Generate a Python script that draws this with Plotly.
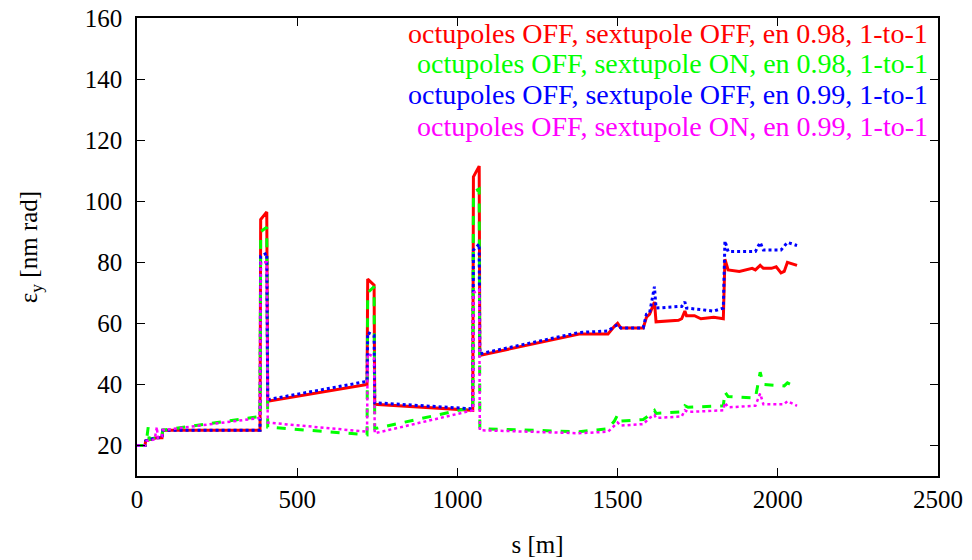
import plotly.graph_objects as go

# Series: s [m] and epsilon_y [nm rad]
red_s = [0, 25, 27, 60, 78, 80, 384, 386, 405, 408, 718, 720, 740, 742, 1048, 1050, 1068, 1070,
         1380, 1470, 1490, 1500, 1510, 1580, 1590, 1600, 1615, 1620, 1690, 1700, 1710, 1715, 1740,
         1760, 1800, 1830, 1835, 1845, 1880, 1920, 1930, 1945, 1955, 1980, 1995, 2010, 2020, 2030, 2060]
red_v = [20, 20, 21.5, 22.5, 22.5, 25, 25, 94, 96.5, 34.5, 40, 74.5, 72.5, 33.5, 31.5, 108, 111.5, 49.5,
         56.5, 56.5, 59, 60, 58.5, 58.5, 62, 63, 67, 60.5, 61, 61.5, 64, 62.5, 62.5,
         61.5, 62, 61.5, 81, 77.5, 77, 78, 77.5, 79, 78, 78, 78.5, 76.5, 77, 80, 79]

green_s = [0, 25, 30, 35, 38, 60, 78, 80, 384, 386, 405, 408, 718, 720, 740, 742, 1048, 1050, 1068, 1070,
           1380, 1470, 1490, 1500, 1510, 1580, 1600, 1615, 1620, 1700, 1710, 1720, 1830, 1835, 1845,
           1930, 1945, 1955, 2020, 2030, 2060]
green_v = [20, 20, 22, 26, 22, 22.5, 23, 25, 29.5, 90, 91.5, 26, 23.5, 70, 72, 25.5, 32.5, 103, 104, 25.5,
           24.5, 25.5, 28, 30, 28, 28.5, 30, 31.5, 30.5, 31, 33, 32.5, 33, 37.5, 36,
           35.5, 44, 40, 39.5, 40.5, 39]

blue_s = [0, 25, 27, 60, 78, 80, 384, 386, 405, 408, 718, 720, 740, 742, 1048, 1050, 1068, 1070,
          1380, 1470, 1490, 1500, 1510, 1580, 1590, 1600, 1615, 1620, 1690, 1700, 1710, 1715, 1760,
          1800, 1830, 1835, 1845, 1930, 1945, 1955, 2010, 2030, 2060]
blue_v = [20, 20, 21.5, 22.5, 22.5, 25, 25, 82, 83, 35, 41, 57, 56, 34, 32, 84, 86, 50,
          57, 57.5, 59, 59.5, 58.5, 58.5, 63, 63.5, 72, 65, 65.5, 65.5, 67, 65, 64.5,
          64, 65, 87, 83.5, 83.5, 86.5, 84, 84, 86.5, 85.5]

magenta_s = [0, 25, 30, 55, 62, 65, 78, 80, 384, 386, 405, 408, 718, 720, 740, 742, 1048, 1050, 1068, 1070,
             1380, 1470, 1490, 1500, 1510, 1580, 1600, 1615, 1620, 1700, 1710, 1720, 1830, 1835, 1845,
             1930, 1945, 1955, 2020, 2030, 2060]
magenta_v = [20, 20, 21.5, 22, 26, 22.5, 23, 25, 29, 80, 80, 27.5, 24.5, 50, 49, 24, 31.5, 70, 71, 25,
             24, 24.5, 26.5, 27.5, 26.5, 27, 29, 30, 29, 29.5, 31.5, 31, 31.5, 34, 32.5,
             33, 37, 33.5, 33.5, 34.5, 33]

labels = ["octupoles OFF, sextupole OFF, en 0.98, 1-to-1",
          "octupoles OFF, sextupole ON, en 0.98, 1-to-1",
          "octupoles OFF, sextupole OFF, en 0.99, 1-to-1",
          "octupoles OFF, sextupole ON, en 0.99, 1-to-1"]
colors = ["#ff0000", "#00ff00", "#0000ff", "#ff00ff"]
dashes = ["solid", "dash", "dot", "dot"]
widths = [3, 3, 3, 2.5]
xs = [red_s, green_s, blue_s, magenta_s]
ys = [red_v, green_v, blue_v, magenta_v]
legend_y = [0.967, 0.8996, 0.832, 0.764]

FONT = "Liberation Serif, Times New Roman, serif"

fig = go.Figure()
for x, y, c, d, w, n in zip(xs, ys, colors, dashes, widths, labels):
    fig.add_trace(go.Scatter(x=x, y=y, mode="lines", name=n,
                             line=dict(color=c, dash=d, width=w), showlegend=False))

for n, c, ly in zip(labels, colors, legend_y):
    fig.add_annotation(x=0.99, y=ly, xref="paper", yref="paper",
                       xanchor="right", yanchor="middle", text=n, showarrow=False,
                       font=dict(family=FONT, size=28, color=c))

axis_common = dict(showline=True, linecolor="black", linewidth=1.5, mirror="ticks",
                   ticks="inside", ticklen=8, tickwidth=1.2, tickcolor="black",
                   showgrid=False, zeroline=False, ticklabeloverflow="allow",
                   automargin=False,
                   tickfont=dict(family=FONT, size=25, color="black"))

fig.update_xaxes(range=[0, 2500], tickvals=[0, 500, 1000, 1500, 2000, 2500],
                 title=dict(text="s [m]", font=dict(family=FONT, size=25, color="black"), standoff=24),
                 **axis_common)
fig.update_yaxes(range=[10, 160], tickvals=[20, 40, 60, 80, 100, 120, 140, 160],
                 ticklabelstandoff=8,
                 title=dict(text="ε<sub>y</sub> [nm rad]", font=dict(family=FONT, size=25, color="black"),
                            standoff=40),
                 **axis_common)

fig.update_layout(width=964, height=552, margin=dict(l=129, r=34, t=10, b=84),
                  plot_bgcolor="white", paper_bgcolor="white",
                  font=dict(family=FONT))

fig.write_html("out.html")
